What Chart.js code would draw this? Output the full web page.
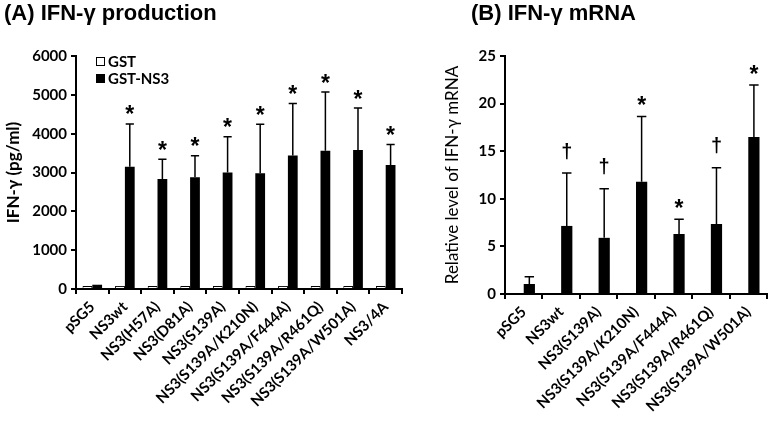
<!DOCTYPE html>
<html>
<head>
<meta charset="utf-8">
<script src="https://cdn.jsdelivr.net/npm/chart.js@4/dist/chart.umd.min.js"></script>
<style>
  html, body { margin: 0; padding: 0; background: #fff; }
  body { width: 772px; height: 431px; position: relative; overflow: hidden; }
  .panel { position: absolute; top: 0; height: 431px; }
  .title { position: absolute; top: 0px; font: bold 22px "Liberation Sans", Arial, sans-serif; color: #000; white-space: nowrap; }
</style>
</head>
<body>
<div class="panel" style="left:0;width:415px"><canvas id="chartA"></canvas></div>
<div class="panel" style="left:420px;width:352px"><canvas id="chartB"></canvas></div>
<div class="title" style="left:4px">(A) IFN-γ production</div>
<div class="title" style="left:471px">(B) IFN-γ mRNA</div>
<script>
// panel A - IFN-γ production (pg/ml)
const catA = ['pSG5', 'NS3wt', 'NS3(H57A)', 'NS3(D81A)', 'NS3(S139A)', 'NS3(S139A/K210N)',
  'NS3(S139A/F444A)', 'NS3(S139A/R461Q)', 'NS3(S139A/W501A)', 'NS3/4A']
const gstA = [80, 80, 80, 80, 80, 80, 80, 80, 80, 80]
const ns3A = [110, 3150, 2830, 2880, 3000, 2980, 3440, 3560, 3580, 3190]
const ns3ErrA = [0, 1100, 510, 550, 920, 1260, 1340, 1510, 1080, 530]
const sigA = ['', '*', '*', '*', '*', '*', '*', '*', '*', '*']
const ticksA = [0, 1000, 2000, 3000, 4000, 5000, 6000]

// panel B - relative IFN-γ mRNA
const catB = ['pSG5', 'NS3wt', 'NS3(S139A)', 'NS3(S139A/K210N)', 'NS3(S139A/F444A)',
  'NS3(S139A/R461Q)', 'NS3(S139A/W501A)']
const mrnaB = [1.05, 7.15, 5.9, 11.8, 6.3, 7.35, 16.5]
const mrnaErrB = [0.75, 5.55, 5.15, 6.85, 1.55, 5.9, 5.45]
const sigB = ['', '†', '†', '*', '*', '†', '*']
const ticksB = [0, 5, 10, 15, 20, 25]

const LABEL_FONT = 'Lato'

// draws upper error bars, significance marks and (optionally) a small legend
const extras = {
  id: 'extras',
  afterDatasetsDraw(chart, args, opts) {
    const ctx = chart.ctx
    const meta = chart.getDatasetMeta(opts.dataset)
    const y = chart.scales.y
    const vals = chart.data.datasets[opts.dataset].data
    ctx.save()
    ctx.strokeStyle = '#000'
    ctx.fillStyle = '#000'
    ctx.lineWidth = 1.5
    meta.data.forEach((bar, i) => {
      const err = opts.err[i]
      if (!err) return
      const top = y.getPixelForValue(vals[i] + err)
      const half = bar.width * 0.42
      ctx.beginPath()
      ctx.moveTo(bar.x, bar.y)
      ctx.lineTo(bar.x, top)
      ctx.moveTo(bar.x - half, top)
      ctx.lineTo(bar.x + half, top)
      ctx.stroke()

      const mark = opts.marks[i]
      if (!mark) return
      const dagger = mark === '†'
      ctx.font = dagger ? 'bold 20px "Liberation Sans"' : 'bold 23px "Liberation Sans"'
      const m = ctx.measureText(mark)
      const cy = top - (dagger ? 22 : opts.starGap)
      const by = cy + (m.actualBoundingBoxAscent - m.actualBoundingBoxDescent) / 2
      ctx.textAlign = 'center'
      ctx.textBaseline = 'alphabetic'
      ctx.fillText(mark, bar.x, by)
    })

    if (opts.legend) {
      const { left, top } = chart.chartArea
      const x0 = left + 20
      ctx.font = `bold 15px ${LABEL_FONT}`
      ctx.textBaseline = 'middle'
      ctx.textAlign = 'left'
      chart.data.datasets.forEach((ds, k) => {
        const cy = top + 5 + k * 17
        ctx.fillStyle = ds.backgroundColor
        ctx.fillRect(x0, cy - 4, 9, 9)
        ctx.lineWidth = 1
        ctx.strokeStyle = '#000'
        ctx.strokeRect(x0 + 0.5, cy - 3.5, 8, 8)
        ctx.fillStyle = '#000'
        ctx.fillText(ds.label, x0 + 12, cy + 1)
      })
    }
    ctx.restore()
  },
}

function axisOptions(ticks, yTitle, yTitleBold, yWidth, xHeight) {
  return {
    x: {
      afterFit: s => { s.height = xHeight },
      border: { color: '#000', width: 2 },
      grid: { drawOnChartArea: false, drawTicks: true, tickLength: 5, color: '#000', lineWidth: 2 },
      ticks: {
        color: '#000',
        font: { family: LABEL_FONT, weight: 'bold', size: 15 },
        minRotation: 45,
        maxRotation: 45,
        autoSkip: false,
        padding: 4,
      },
    },
    y: {
      min: 0,
      max: ticks[ticks.length - 1],
      afterFit: s => { s.width = yWidth },
      afterBuildTicks: s => { s.ticks = ticks.map(v => ({ value: v })) },
      border: { color: '#000', width: 2 },
      grid: { drawOnChartArea: false, drawTicks: true, tickLength: 5, color: '#000', lineWidth: 2 },
      ticks: {
        color: '#000',
        font: { family: LABEL_FONT, weight: 'bold', size: 15 },
        padding: 4,
        callback: v => String(v),
      },
      title: {
        display: true,
        text: yTitle,
        color: '#000',
        font: { family: LABEL_FONT, weight: yTitleBold ? 'bold' : 'normal', size: 17 },
        padding: 0,
      },
    },
  }
}

new Chart(document.getElementById('chartA'), {
  type: 'bar',
  data: {
    labels: catA,
    datasets: [
      { label: 'GST', data: gstA, backgroundColor: '#fff', borderColor: '#000', borderWidth: 1 },
      { label: 'GST-NS3', data: ns3A, backgroundColor: '#000', borderColor: '#000', borderWidth: 0 },
    ],
  },
  options: {
    responsive: true,
    maintainAspectRatio: false,
    animation: false,
    categoryPercentage: 0.6,
    barPercentage: 1.0,
    layout: { padding: { left: 3, right: 13, top: 56, bottom: 0 } },
    plugins: {
      legend: { display: false },
      tooltip: { enabled: false },
      extras: { dataset: 1, err: ns3ErrA, marks: sigA, starGap: 14, legend: true },
    },
    scales: axisOptions(ticksA, 'IFN-γ (pg/ml)', true, 73, 142),
  },
  plugins: [extras],
})

new Chart(document.getElementById('chartB'), {
  type: 'bar',
  data: {
    labels: catB,
    datasets: [
      { label: 'GST', data: catB.map(() => null), backgroundColor: '#fff' },
      { label: 'GST-NS3', data: mrnaB, backgroundColor: '#000', borderWidth: 0 },
    ],
  },
  options: {
    responsive: true,
    maintainAspectRatio: false,
    animation: false,
    categoryPercentage: 0.6,
    barPercentage: 1.0,
    layout: { padding: { left: 22, right: 5, top: 56, bottom: 0 } },
    plugins: {
      legend: { display: false },
      tooltip: { enabled: false },
      extras: { dataset: 1, err: mrnaErrB, marks: sigB, starGap: 16, legend: false },
    },
    scales: axisOptions(ticksB, 'Relative level of IFN-γ mRNA', false, 63, 137),
  },
  plugins: [extras],
})
</script>
</body>
</html>
